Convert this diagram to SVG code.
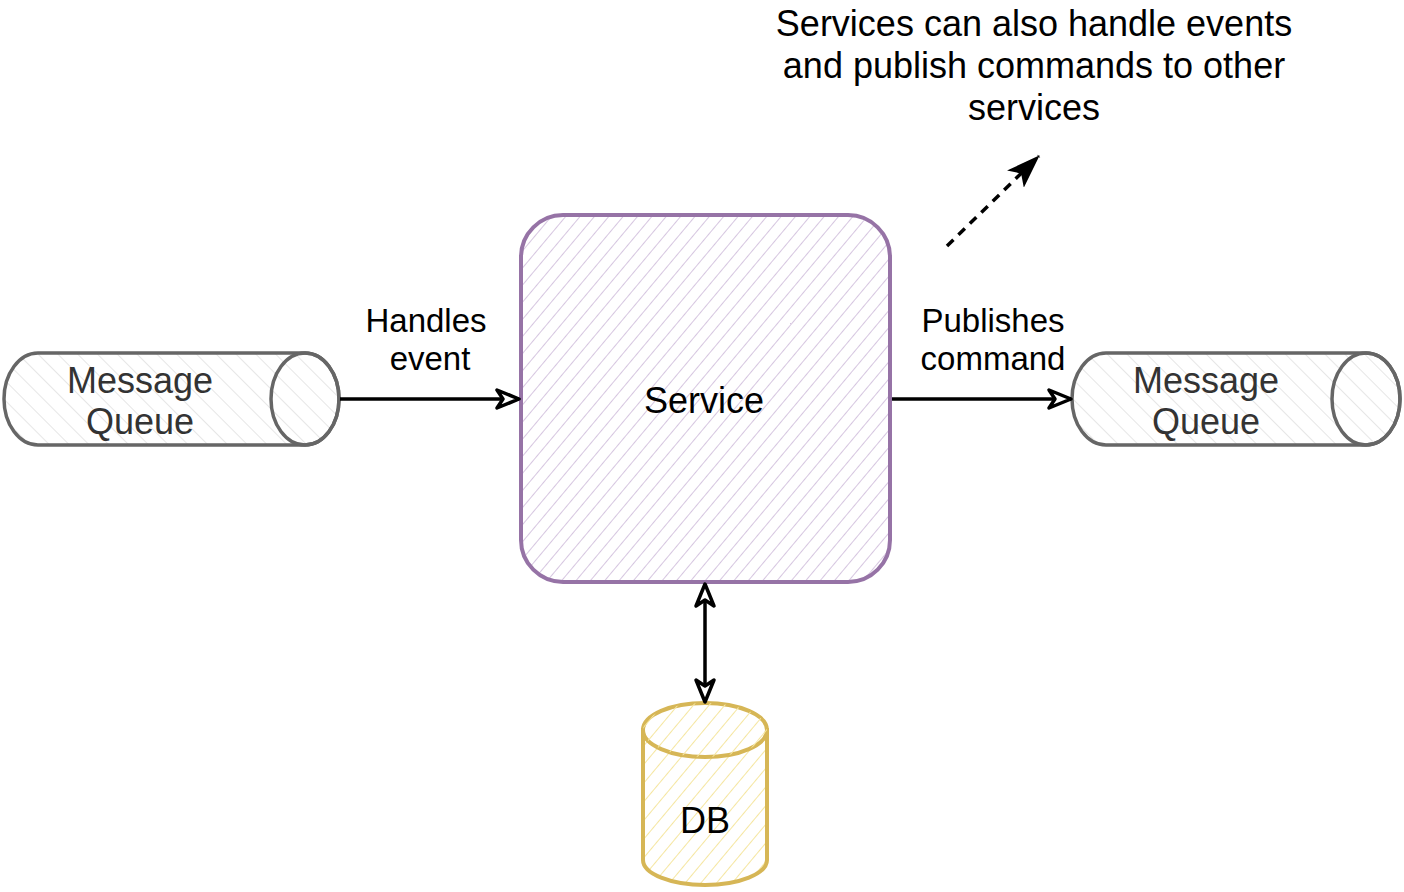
<svg xmlns="http://www.w3.org/2000/svg" width="1404" height="892" viewBox="0 0 1404 892">
<style>
text{font-family:"Liberation Sans",Arial,sans-serif;fill:#000;text-anchor:middle}
.t36{font-size:36px}
.t33{font-size:33px}
.mq{stroke:#666666;stroke-width:3.5}
.mqt{fill:#333333}
.edge{stroke:#000;stroke-width:3.5;fill:none}
</style>
<defs>
<pattern id="hPurple" width="11" height="11" patternUnits="userSpaceOnUse" patternTransform="rotate(40)"><line x1="0" y1="0" x2="0" y2="11" stroke="#d6c6e0" stroke-width="2"/></pattern>
<pattern id="hGrey" width="14" height="14" patternUnits="userSpaceOnUse" patternTransform="rotate(-45)"><line x1="0" y1="0" x2="0" y2="14" stroke="#e6e6e6" stroke-width="2"/></pattern>
<pattern id="hYellow" width="12" height="12" patternUnits="userSpaceOnUse" patternTransform="rotate(40)"><line x1="0" y1="0" x2="0" y2="12" stroke="#f5e6a0" stroke-width="2"/></pattern>
<marker id="aOpen" viewBox="0 0 28 24" refX="25" refY="12" markerWidth="28" markerHeight="24" orient="auto-start-reverse" markerUnits="userSpaceOnUse"><path d="M3,3 L25,12 L3,21 L9,12 Z" fill="#fff" stroke="#000" stroke-width="3.5" stroke-linejoin="round"/></marker>
<marker id="aFill" viewBox="0 0 34 26" refX="33" refY="13" markerWidth="34" markerHeight="26" orient="auto" markerUnits="userSpaceOnUse"><path d="M0,1 L34,13 L0,25 L8,13 Z" fill="#000"/></marker>
</defs>
<rect width="1404" height="892" fill="#ffffff"/>
<g id="title">
<text class="t36" x="1034" y="36">Services can also handle events</text>
<text class="t36" x="1034" y="78">and publish commands to other</text>
<text class="t36" x="1034" y="120">services</text>
</g>
<g id="service">
<rect x="521" y="215" width="369" height="367" rx="42" ry="42" fill="url(#hPurple)" stroke="#9673a6" stroke-width="4"/>
<text class="t36" x="704" y="413">Service</text>
</g>
<g id="mq-left">
<path class="mq" d="M38,353 L305,353 A34,46 0 0 1 305,445 L38,445 A34,46 0 0 1 38,353 Z" fill="url(#hGrey)"/>
<ellipse class="mq" cx="305" cy="399" rx="34" ry="46" fill="none"/>
<text class="t36 mqt" x="140" y="393">Message</text>
<text class="t36 mqt" x="140" y="434">Queue</text>
</g>
<g id="mq-right">
<path class="mq" d="M1106,353 L1366,353 A34,46 0 0 1 1366,445 L1106,445 A34,46 0 0 1 1106,353 Z" fill="url(#hGrey)"/>
<ellipse class="mq" cx="1366" cy="399" rx="34" ry="46" fill="none"/>
<text class="t36 mqt" x="1206" y="393">Message</text>
<text class="t36 mqt" x="1206" y="434">Queue</text>
</g>
<g id="db">
<path d="M643,730 L643,860 A62,25 0 0 0 767,860 L767,730 Z" fill="url(#hYellow)" stroke="#d6b656" stroke-width="4"/>
<ellipse cx="705" cy="730" rx="62" ry="27" fill="#fff" stroke="#d6b656" stroke-width="4"/>
<ellipse cx="705" cy="730" rx="62" ry="27" fill="url(#hYellow)" stroke="none"/>
<text class="t36" x="705" y="833">DB</text>
</g>
<g id="connectors">
<line class="edge" x1="340" y1="399" x2="519" y2="399" marker-end="url(#aOpen)"/>
<line class="edge" x1="892" y1="399" x2="1071" y2="399" marker-end="url(#aOpen)"/>
<line class="edge" x1="705" y1="584" x2="705" y2="702" marker-start="url(#aOpen)" marker-end="url(#aOpen)"/>
<line class="edge" x1="947" y1="246" x2="1039" y2="156" stroke-dasharray="9 7" marker-end="url(#aFill)"/>
<text class="t33" x="426" y="332">Handles</text>
<text class="t33" x="430" y="370">event</text>
<text class="t33" x="993" y="332">Publishes</text>
<text class="t33" x="993" y="370">command</text>
</g>
</svg>
